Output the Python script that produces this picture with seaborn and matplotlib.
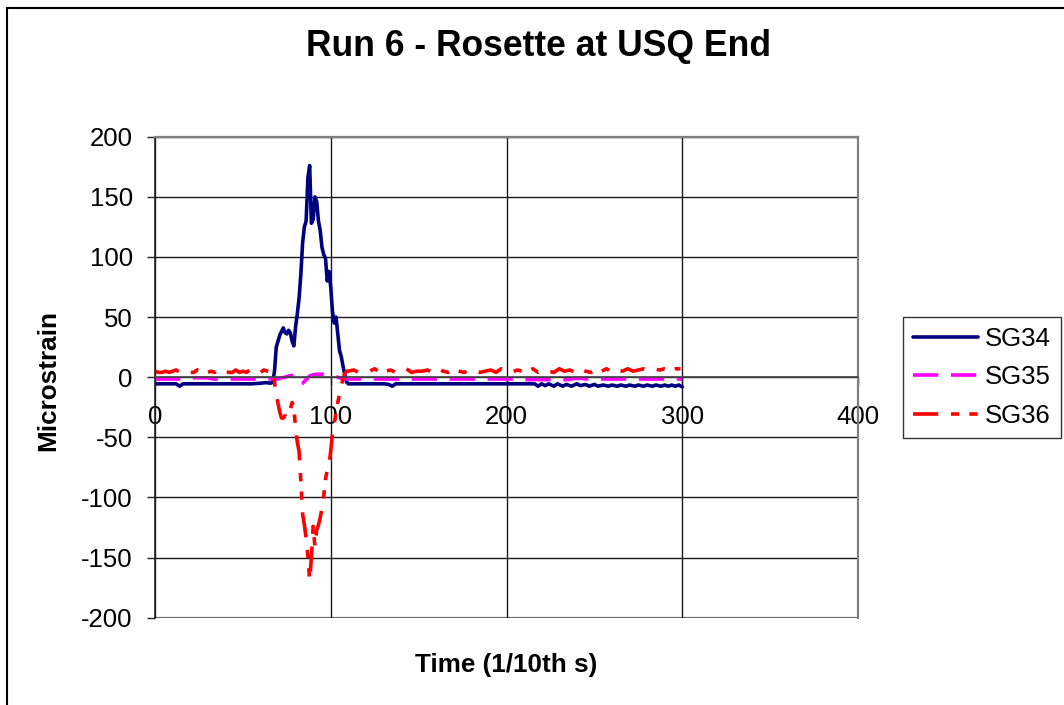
import numpy as np
import pandas as pd
import matplotlib
matplotlib.use("Agg")
import matplotlib.pyplot as plt
from matplotlib.patches import Rectangle
from matplotlib.lines import Line2D
import seaborn as sns

# ---- strain gauge readings (microstrain) against time (1/10th s) ----
series_names = ["SG34", "SG35", "SG36"]

# SG34
t34 = [0, 5, 10, 12, 14, 16, 20, 25, 30, 35, 40, 45, 50, 55, 60, 63, 66,
       67, 68, 69, 70, 71, 72, 73, 74, 75, 76, 77, 78, 79, 80, 81, 82, 83, 84,
       85, 86, 87, 88, 89, 90, 91, 92, 93, 94, 95, 96, 97, 98, 99, 100, 101,
       102, 103, 104, 105, 106, 107, 108, 109, 110,
       120, 130, 133, 135, 137, 150, 170, 190, 210, 216, 218, 220, 222, 224,
       227, 229, 232, 234, 237, 240, 242, 245, 247, 250, 252, 255, 258, 260,
       263, 265, 268, 270, 273, 275, 278, 280, 283, 285, 288, 290, 292, 294,
       296, 298, 300]
v34 = [-5.5, -5.5, -5.5, -5.5, -7.5, -5.5, -5.5, -5.5, -5.5, -5.5, -5.5, -5.5,
       -5.5, -5.5, -5, -4.5, -5,
       -4, 5, 25, 30, 35, 38, 41, 37, 36, 39, 37, 30, 26, 42, 53, 66, 86, 112,
       125, 130, 166, 176, 128, 131, 150, 146, 130, 122, 108, 102, 99, 80, 88,
       75, 54, 45, 50, 36, 22, 17, 9, 2, -4, -5.5,
       -5.5, -5.5, -6, -7.5, -5.5, -5.5, -5.5, -5.5, -5.5, -5.5, -7.5, -5.5,
       -7, -5.5, -7.5, -5.5, -7.5, -6, -7.5, -5.5, -7, -6, -7.5, -6, -7.5,
       -6.5, -7.5, -6.5, -7.5, -6.5, -7.5, -6.5, -7.5, -6.5, -7.5, -6.5,
       -7.5, -6.5, -7.5, -6.5, -7.5, -6.5, -7.5, -6.5, -8]

# SG35
t35 = [0, 10, 18, 20, 30, 33, 45, 60, 67, 70, 72, 74, 76, 78, 80, 82, 83, 84,
       86, 88, 90, 92, 95, 98, 100, 103, 105, 108, 112, 140, 170, 206, 208,
       236, 238, 243, 245, 270, 300]
v35 = [-1.5, -1.5, -1.5, -0.5, -0.5, -1.5, -1.5, -1.5, -1.5, -1.5, -0.5, 0,
       1, 1.5, 0.5, -3, -5.5, -5, -2, 1, 2, 2.5, 2.5, 2, 1, 0.5, -0.5, -1.5,
       -1.5, -1.5, -1.5, -1.5, -2, -2, -1, -1, -1.5, -1.5, -1.5]

# SG36
t36 = (list(range(0, 67, 2)) + list(range(67, 110)) + list(range(110, 300, 3)))
v36 = ([5, 4, 4, 5, 4, 5, 6, 4, 4, 5, 4, 4, 6, 5, 4, 4, 5, 4, 6, 4, 5, 4, 4, 6,
        4, 5, 4, 6, 4, 5, 4, 6, 5, 4] +
       [3, -4, -14, -22, -29, -34, -34, -32, -34, -29, -27, -21, -24, -44, -54,
        -62, -87, -114, -123, -134, -149, -169, -150, -124, -141, -127, -123,
        -117, -109, -99, -85, -77, -74, -61, -47, -39, -29, -21, -14, -7, -1,
        3, 5] +
       [5, 6, 4, 5, 5, 7, 4, 5, 6, 4, 5, 7, 4, 5, 5, 6, 4, 7, 5, 4, 6, 5, 4, 6,
        5, 4, 5, 6, 4, 7, 5, 4, 6, 5, 5, 7, 4, 6, 5, 4, 7, 5, 6, 4, 7, 5, 4, 6,
        5, 7, 4, 6, 5, 7, 5, 6, 7, 6, 7, 6, 7, 6, 7, 7])

x_ticks = [0, 100, 200, 300, 400]
y_ticks = [-200, -150, -100, -50, 0, 50, 100, 150, 200]

df = pd.concat([
    pd.DataFrame({"time": t34, "strain": v34, "gauge": "SG34"}),
    pd.DataFrame({"time": t35, "strain": v35, "gauge": "SG35"}),
    pd.DataFrame({"time": t36, "strain": v36, "gauge": "SG36"}),
], ignore_index=True)

sns.set_style("white")
plt.rcParams["font.family"] = ["Liberation Sans", "DejaVu Sans"]
plt.rcParams["text.color"] = "black"
plt.rcParams["axes.labelcolor"] = "black"
plt.rcParams["xtick.color"] = "black"
plt.rcParams["ytick.color"] = "black"

W, H = 1064, 705
fig = plt.figure(figsize=(W / 100, H / 100), dpi=100)
ax = fig.add_axes([155 / W, 1 - 617.7 / H, 703 / W, 481 / H])

palette = {"SG34": "#000080", "SG35": "#FF00FF", "SG36": "#FF0000"}
dashes = {"SG34": "", "SG35": (7, 3.5), "SG36": (7, 3.5, 2.3, 2.8, 2.3, 3.5)}
LW = 2.6

sns.lineplot(data=df, x="time", y="strain", hue="gauge", style="gauge",
             palette=palette, dashes=dashes, estimator=None, sort=False,
             linewidth=LW, ax=ax, legend=False)

ax.set_xlim(0, 400)
ax.set_ylim(-200, 200)
ax.set_xticks(x_ticks)
ax.set_yticks(y_ticks)
ax.set_xticklabels([str(v) for v in x_ticks])
ax.set_yticklabels([str(v) for v in y_ticks])

ax.grid(True, color="#1a1a1a", linewidth=1.0)
ax.set_axisbelow(True)

for side in ("top", "right"):
    ax.spines[side].set_color("#808080")
    ax.spines[side].set_linewidth(1.6)
    ax.spines[side].set_visible(True)
ax.spines["left"].set_color("#222222")
ax.spines["left"].set_linewidth(1.2)
ax.spines["bottom"].set_position(("data", 0))
ax.spines["bottom"].set_color("#444444")
ax.spines["bottom"].set_linewidth(1.2)
ax.axhline(-200, color="#808080", linewidth=1.6, zorder=0.5)

ax.tick_params(axis="y", direction="out", length=6, width=1, color="#222222",
               labelsize=18.5, pad=10, left=True)
ax.tick_params(axis="x", direction="out", length=6, width=1, color="#222222",
               labelsize=18.5, pad=14, bottom=True)

ax.set_xlabel("Time (1/10th s)", fontsize=18.8, fontweight="bold", va="center")
ax.xaxis.set_label_coords(0.5, -0.098)
ax.set_ylabel("Microstrain", fontsize=18.8, fontweight="bold", va="center")
ax.yaxis.set_label_coords(-0.152, 0.494)

fig.text(538 / W, 1 - 46 / H, "Run 6 - Rosette at USQ End", ha="center",
         va="center", fontsize=25.6, fontweight="bold")

handles = []
for n in series_names:
    h = Line2D([], [], color=palette[n], linewidth=LW)
    if dashes[n]:
        h.set_dashes(dashes[n])
    handles.append(h)
leg = ax.legend(handles, series_names, loc="upper left",
                bbox_to_anchor=(903 / W, 1 - 317 / H),
                bbox_transform=fig.transFigure, frameon=True, fancybox=False,
                edgecolor="black", fontsize=18.5, handlelength=2.5,
                handletextpad=0.3, borderpad=0.4, labelspacing=0.55,
                borderaxespad=0)
leg.get_frame().set_linewidth(1.0)

# outer chart border
fig.patches.append(Rectangle((6.5 / W, -0.1), 1.2, 1 - 7.5 / H + 0.1,
                             transform=fig.transFigure, fill=False,
                             edgecolor="black", linewidth=1.5))

fig.savefig("out.png", dpi=100, facecolor="white")
